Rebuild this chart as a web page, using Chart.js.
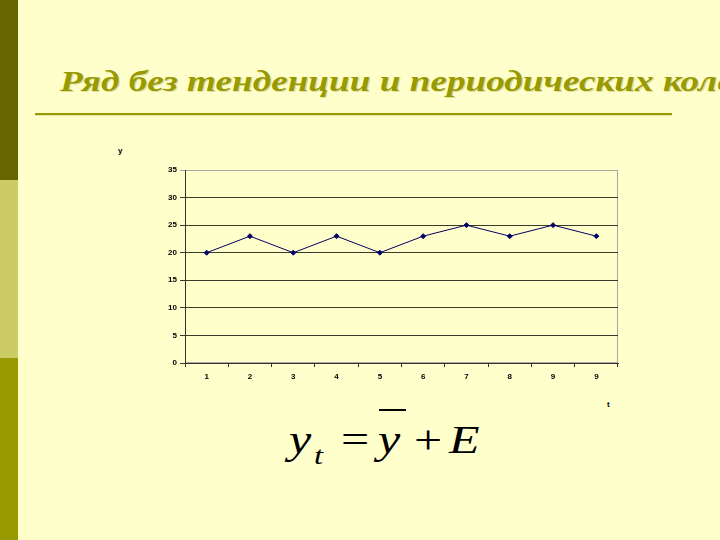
<!DOCTYPE html>
<html>
<head>
<meta charset="utf-8">
<script src="https://cdn.jsdelivr.net/npm/chart.js@4"></script>
<style>
  html,body{margin:0;padding:0;}
  body{width:720px;height:540px;background:#FFFFCC;position:relative;overflow:hidden;font-family:Arial,"Liberation Sans",sans-serif;}
  .stripe{position:absolute;left:0;width:18px;}
  #s1{top:0;height:180px;background:#666600;}
  #s2{top:180px;height:178px;background:#CCCC66;}
  #s3{top:358px;height:182px;background:#999900;}
  #title{position:absolute;left:60px;top:64px;white-space:nowrap;font-family:"Liberation Serif","DejaVu Serif",serif;font-style:italic;font-weight:bold;font-size:30px;color:#999900;text-shadow:1px 1px 0 #E0E0A0;transform:scaleX(1.24);transform-origin:left top;}
  #rule{position:absolute;left:35px;top:113px;width:637px;height:2px;background:#999900;box-shadow:0 1px 0 #E6E6A8;}
  #wrap{position:absolute;left:150px;top:160px;width:480px;height:230px;}
  .ax{position:absolute;font-size:8px;font-weight:bold;color:#000;}
  .f{position:absolute;font-family:"Liberation Serif","Times New Roman",serif;font-size:40px;color:#000;line-height:1;transform:scaleX(1.25);transform-origin:left top;}
</style>
</head>
<body>
<div class="stripe" id="s1"></div>
<div class="stripe" id="s2"></div>
<div class="stripe" id="s3"></div>
<div id="title">Ряд без тенденции и периодических колебаний</div>
<div id="rule"></div>
<div class="ax" style="left:118px;top:146px;">y</div>
<div class="ax" style="left:607px;top:400px;">t</div>
<div id="wrap"><canvas id="chart" width="480" height="230"></canvas></div>
<div class="f" style="left:289px;top:420px;font-style:italic;">y</div>
<div class="f" style="left:314px;top:443px;font-style:italic;font-size:26px;">t</div>
<div class="f" style="left:341px;top:420px;">=</div>
<div class="f" style="left:378px;top:420px;font-style:italic;">y</div>
<div style="position:absolute;left:379px;top:409px;width:27px;height:2px;background:#000;"></div>
<div class="f" style="left:414px;top:420px;">+</div>
<div class="f" style="left:449px;top:420px;font-style:italic;">E</div>
<script>
const labels = ['1','2','3','4','5','6','7','8','9','9'];
const values = [20, 23, 20, 23, 20, 23, 25, 23, 25, 23];
const yMin = 0, yMax = 35, yStep = 5;

const areaBorder = {
  id:'areaBorder',
  beforeDraw(chart){
    const {ctx, chartArea:a} = chart;
    ctx.save();
    ctx.strokeStyle = '#A8A8A0';
    ctx.lineWidth = 1;
    ctx.strokeRect(a.left+0.5, a.top+0.5, a.width-1, a.height-1);
    ctx.restore();
  }
};

new Chart(document.getElementById('chart'), {
  type:'line',
  data:{ labels, datasets:[{
    data: values,
    borderColor:'#000066',
    backgroundColor:'#000066',
    borderWidth:1,
    pointStyle:'rectRot',
    pointRadius:2.5,
    tension:0
  }]},
  options:{
    responsive:false,
    animation:false,
    devicePixelRatio:1,
    layout:{ padding:{ top:10, right:12, left:0, bottom:0 } },
    plugins:{ legend:{display:false}, tooltip:{enabled:false} },
    scales:{
      x:{
        offset:true,
        afterFit:(s)=>{ s.height = 27; },
        grid:{ offset:true, drawOnChartArea:false, drawTicks:true, tickLength:4, color:'#333' },
        border:{ color:'#333' },
        ticks:{ color:'#000', padding:5, font:{ size:8, weight:'bold', family:'Arial' }, maxRotation:0, autoSkip:false }
      },
      y:{
        min:yMin, max:yMax,
        afterFit:(s)=>{ s.width = 35; },
        grid:{ color:(c)=> c.tick && c.tick.value === yMax ? '#A8A8A0' : '#3A3A2A', tickLength:5 },
        border:{ color:'#333' },
        ticks:{ stepSize:yStep, color:'#000', padding:3, font:{ size:8, weight:'bold', family:'Arial' } }
      }
    }
  },
  plugins:[areaBorder]
});
</script>
</body>
</html>
